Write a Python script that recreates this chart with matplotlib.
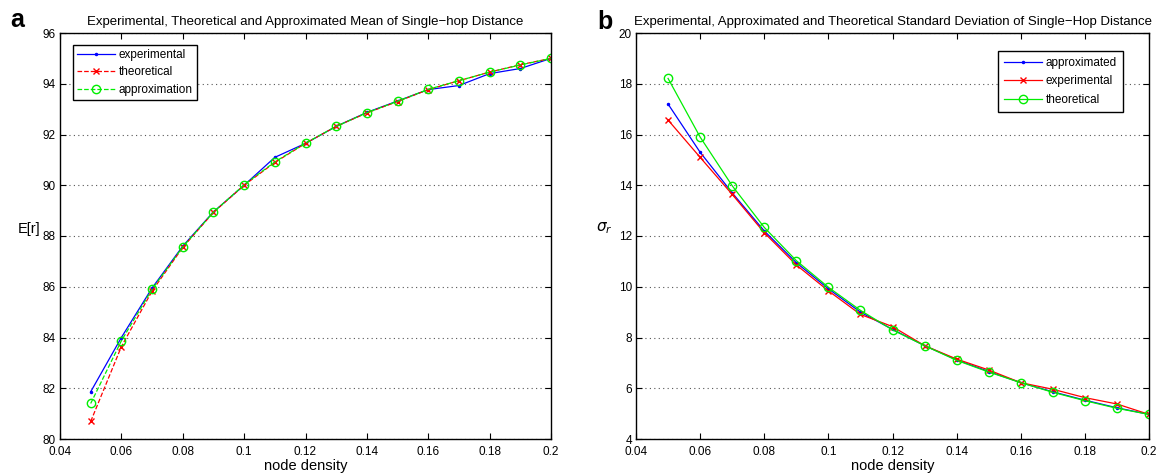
import matplotlib
matplotlib.use("Agg")
import matplotlib.pyplot as plt
import numpy as np

plt.rcParams['font.family'] = ['Liberation Sans', 'DejaVu Sans']

density = [0.05, 0.06, 0.07, 0.08, 0.09, 0.10, 0.11, 0.12, 0.13, 0.14, 0.15, 0.16, 0.17, 0.18, 0.19, 0.20]

# panel a: mean single-hop distance
mean_exp = [81.86, 84.0, 85.95, 87.6, 88.95, 90.0, 91.1, 91.65, 92.32, 92.87, 93.32, 93.77, 93.93, 94.4, 94.6, 95.0]
mean_theo = [80.69, 83.64, 85.83, 87.55, 88.93, 90.0, 90.9, 91.65, 92.32, 92.85, 93.3, 93.77, 94.12, 94.46, 94.75, 95.0]
mean_appr = [81.4, 83.87, 85.9, 87.57, 88.94, 90.02, 90.92, 91.66, 92.32, 92.86, 93.31, 93.78, 94.12, 94.46, 94.74, 95.0]

# panel b: standard deviation
std_appr = [17.2, 15.3, 13.7, 12.2, 10.95, 9.92, 9.0, 8.32, 7.68, 7.12, 6.66, 6.22, 5.86, 5.53, 5.23, 4.97]
std_exp = [16.57, 15.1, 13.64, 12.13, 10.86, 9.84, 8.91, 8.43, 7.68, 7.15, 6.72, 6.22, 5.96, 5.63, 5.38, 4.97]
std_theo = [18.21, 15.9, 13.98, 12.34, 11.03, 9.98, 9.07, 8.3, 7.68, 7.1, 6.64, 6.22, 5.84, 5.51, 5.21, 4.97]

fig = plt.figure(figsize=(11.63, 4.74), dpi=100)
W, H = 1163.0, 474.0
ax1 = fig.add_axes([60 / W, 1 - 439 / H, (551 - 60) / W, (439 - 33) / H])
ax2 = fig.add_axes([636 / W, 1 - 439 / H, (1149 - 636) / W, (439 - 33) / H])


def style_axes(ax):
    ax.set_xlim(0.04, 0.2)
    ax.set_xticks(np.arange(0.04, 0.2001, 0.02))
    ax.set_xticklabels(['0.04', '0.06', '0.08', '0.1', '0.12', '0.14', '0.16', '0.18', '0.2'])
    ax.tick_params(direction='in', top=True, right=True, labelsize=8.5, length=4, width=0.8)
    ax.tick_params(axis='x', pad=5)
    ax.tick_params(axis='y', pad=3)
    ax.yaxis.grid(True, linestyle=(0, (1, 3)), color='#555555', linewidth=0.8)
    for s in ax.spines.values():
        s.set_linewidth(1.0)
    ax.set_xlabel('node density', fontsize=10.5, labelpad=1)


ax1.plot(density, mean_exp, color='blue', marker='.', markersize=3, linewidth=0.9, label='experimental')
ax1.plot(density, mean_theo, color='red', marker='x', markersize=5, linestyle='--', linewidth=0.9, label='theoretical')
ax1.plot(density, mean_appr, color='#00ee00', marker='o', markersize=6, markerfacecolor='none',
         linestyle='--', linewidth=0.9, label='approximation')
style_axes(ax1)
ax1.set_ylim(80, 96)
ax1.set_yticks(np.arange(80, 96.1, 2))
ax1.set_title('Experimental, Theoretical and Approximated Mean of Single\u2212hop Distance', fontsize=9.5, pad=6)
ax1.set_ylabel('E[r]', fontsize=10.5, rotation=0, labelpad=10)
leg1 = ax1.legend(loc='upper left', fontsize=8.5, fancybox=False, edgecolor='black', framealpha=1,
                  handlelength=3.2, borderpad=0.35, labelspacing=0.45, handletextpad=0.3,
                  bbox_to_anchor=(0.015, 0.985))
leg1.get_frame().set_linewidth(1.0)

ax2.plot(density, std_appr, color='blue', marker='.', markersize=3, linewidth=0.9, label='approximated')
ax2.plot(density, std_exp, color='red', marker='x', markersize=5, linewidth=0.9, label='experimental')
ax2.plot(density, std_theo, color='#00ee00', marker='o', markersize=6, markerfacecolor='none',
         linewidth=0.9, label='theoretical')
style_axes(ax2)
ax2.set_ylim(4, 20)
ax2.set_yticks(np.arange(4, 20.1, 2))
ax2.set_title('Experimental, Approximated and Theoretical Standard Deviation of Single\u2212Hop Distance',
              fontsize=9.5, pad=6)
ax2.set_ylabel('$\\sigma_r$', fontsize=11, rotation=0, labelpad=10)
leg2 = ax2.legend(loc='upper right', fontsize=8.5, fancybox=False, edgecolor='black', framealpha=1,
                  handlelength=3.2, borderpad=0.5, labelspacing=0.55, handletextpad=0.3,
                  bbox_to_anchor=(0.96, 0.97))
leg2.get_frame().set_linewidth(1.0)

fig.text(10 / W, 1 - 20 / H, 'a', fontsize=18, fontweight='bold', va='center')
fig.text(597 / W, 1 - 22 / H, 'b', fontsize=18, fontweight='bold', va='center')

fig.savefig('out.png', dpi=100)
